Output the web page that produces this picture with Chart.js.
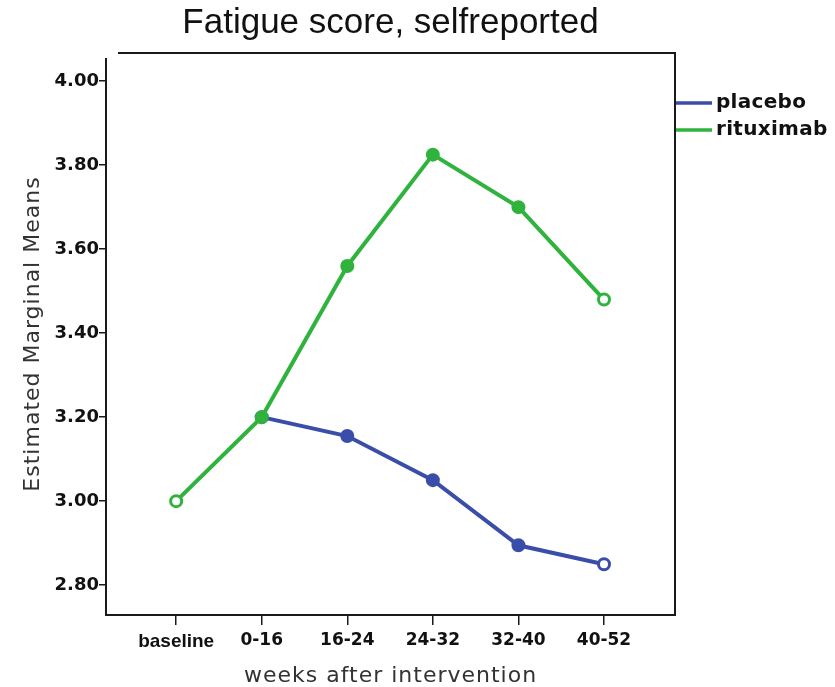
<!DOCTYPE html>
<html>
<head>
<meta charset="utf-8">
<script src="https://cdn.jsdelivr.net/npm/chart.js@4/dist/chart.umd.min.js"></script>
<style>
  html, body { margin: 0; padding: 0; background: #fff; }
  #wrap { width: 835px; height: 687px; position: relative; }
</style>
</head>
<body>
<div id="wrap"><canvas id="chart"></canvas></div>
<script>
// values
const categories = ["baseline", "0-16", "16-24", "24-32", "32-40", "40-52"];
const placebo = [null, 3.20, 3.155, 3.05, 2.895, 2.85];
const rituximab = [3.00, 3.20, 3.56, 3.825, 3.70, 3.48];
const yTicks = [2.80, 3.00, 3.20, 3.40, 3.60, 3.80, 4.00];

const BLUE = "#3a4da8";
const GREEN = "#2fb33d";

// first and last markers are drawn open
function markerFill(values, color) {
  const idx = values.map((v, i) => (v == null ? -1 : i)).filter(i => i >= 0);
  const first = idx[0], last = idx[idx.length - 1];
  return values.map((v, i) => (i === last || (i === first && i === 0) ? "#fff" : color));
}

const toPoints = (values) => values.map((v, i) => ({ x: i, y: v }));

// frame + legend drawn by hand, SPSS style
const framePlugin = {
  id: "frame",
  beforeDraw(chart) {
    chart.ctx.letterSpacing = "0px";
  },
  afterDatasetsDraw(chart) {
    const { ctx, chartArea: ca } = chart;
    ctx.save();
    ctx.strokeStyle = "#1a1a1a";
    ctx.lineWidth = 2;
    ctx.beginPath();
    ctx.moveTo(ca.left, ca.top + 5);
    ctx.lineTo(ca.left, ca.bottom);
    ctx.lineTo(ca.right, ca.bottom);
    ctx.lineTo(ca.right, ca.top);
    ctx.lineTo(ca.left + 12, ca.top);
    ctx.stroke();
    ctx.restore();
    // axis titles (drawn after this, with the grid layer) are spaced out a bit
    ctx.letterSpacing = "1px";
  },
  afterDraw(chart) {
    const { ctx, chartArea: ca } = chart;
    ctx.save();
    ctx.letterSpacing = "0.3px";
    chart.data.datasets.forEach((ds, i) => {
      const y = ca.top + 50 + i * 27;
      ctx.strokeStyle = ds.borderColor;
      ctx.lineWidth = 3.5;
      ctx.beginPath();
      ctx.moveTo(ca.right + 1, y);
      ctx.lineTo(ca.right + 37, y);
      ctx.stroke();
      ctx.fillStyle = "#111";
      ctx.font = "bold 20px 'DejaVu Sans'";
      ctx.textBaseline = "middle";
      ctx.textAlign = "left";
      ctx.fillText(ds.label, ca.right + 41, y);
    });
    ctx.restore();
  }
};

new Chart(document.getElementById("chart"), {
  type: "line",
  data: {
    datasets: [
      {
        label: "placebo",
        data: toPoints(placebo),
        borderColor: BLUE,
        backgroundColor: BLUE,
        pointBackgroundColor: markerFill(placebo, BLUE),
        pointBorderColor: BLUE,
        borderWidth: 4,
        pointRadius: 5.5,
        pointBorderWidth: 3,
        tension: 0,
        order: 1,
      },
      {
        label: "rituximab",
        data: toPoints(rituximab),
        borderColor: GREEN,
        backgroundColor: GREEN,
        pointBackgroundColor: markerFill(rituximab, GREEN),
        pointBorderColor: GREEN,
        borderWidth: 4,
        pointRadius: 5.5,
        pointBorderWidth: 3,
        tension: 0,
        order: 0,
      },
    ],
  },
  options: {
    responsive: true,
    maintainAspectRatio: false,
    animation: false,
    layout: { padding: { left: 0, right: 160, top: 0, bottom: 0 } },
    plugins: {
      legend: { display: false },
      tooltip: { enabled: false },
      title: {
        display: true,
        text: "Fatigue score, selfreported",
        fullSize: false,
        color: "#111",
        font: { family: "'Liberation Sans', Arial", size: 35, weight: "normal", lineHeight: 1.2 },
        padding: { top: 2, bottom: 9 },
      },
    },
    scales: {
      x: {
        type: "linear",
        min: -0.82,
        max: 5.83,
        afterBuildTicks: (scale) => {
          scale.ticks = categories.map((c, i) => ({ value: i }));
        },
        afterFit: (scale) => { scale.height = 72; },
        grid: {
          drawOnChartArea: false,
          drawTicks: true,
          tickLength: 10,
          color: "#1a1a1a",
          lineWidth: 1.5,
          z: 1,
        },
        border: { display: false },
        ticks: {
          autoSkip: false,
          maxRotation: 0,
          padding: 5,
          color: "#111",
          font: (c) => c.index === 0
            ? { family: "'Liberation Sans', Arial", size: 19, weight: "bold" }
            : { family: "'DejaVu Sans'", size: 17, weight: "bold" },
          callback: (v) => categories[v],
        },
        title: {
          display: true,
          text: "weeks after intervention",
          color: "#333",
          font: { family: "'DejaVu Sans'", size: 22, lineHeight: 1 },
          padding: { top: 0, bottom: 0 },
        },
      },
      y: {
        min: 2.729,
        max: 4.067,
        afterBuildTicks: (scale) => {
          scale.ticks = yTicks.map((v) => ({ value: v }));
        },
        afterFit: (scale) => { scale.width = 106; },
        grid: {
          drawOnChartArea: false,
          drawTicks: true,
          tickLength: 7,
          color: "#1a1a1a",
          lineWidth: 1.5,
          z: 1,
        },
        border: { display: false },
        ticks: {
          padding: 0,
          color: "#111",
          font: { family: "'DejaVu Sans'", size: 18, weight: "bold" },
          callback: (v) => Number(v).toFixed(2),
        },
        title: {
          display: true,
          text: "Estimated Marginal Means",
          color: "#333",
          font: { family: "'DejaVu Sans'", size: 22, lineHeight: 1.2 },
          padding: { top: 20, bottom: 0 },
        },
      },
    },
  },
  plugins: [framePlugin],
});
</script>
</body>
</html>
